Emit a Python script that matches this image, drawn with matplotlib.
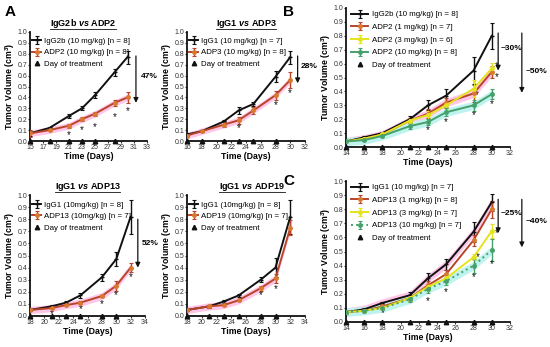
import matplotlib
matplotlib.use("Agg")
import matplotlib.pyplot as plt
from matplotlib.lines import Line2D

plt.rcParams['font.family'] = ['Liberation Sans', 'DejaVu Sans']
plt.rcParams['mathtext.fontset'] = 'custom'
plt.rcParams['mathtext.it'] = 'Liberation Sans:italic:bold'
plt.rcParams['mathtext.rm'] = 'Liberation Sans:bold'

# ---- data ----
# A1: IgG2b vs ADP2
a1_days = [15, 18, 21, 23, 25, 28, 30]
a1_ctrl = [0.07, 0.12, 0.23, 0.30, 0.42, 0.63, 0.77]
a1_ctrl_err = [0.02, 0.01, 0.02, 0.02, 0.03, 0.03, 0.06]
a1_trt = [0.07, 0.10, 0.14, 0.20, 0.25, 0.35, 0.40]
a1_trt_err = [0.03, 0.01, 0.02, 0.02, 0.02, 0.03, 0.05]
a1_star_days = [21, 23, 25, 28, 30]
a1_star_y = [0.05, 0.10, 0.13, 0.22, 0.27]
a1_dosing = [15, 18, 21, 23, 25, 28]

# A2: IgG1 vs ADP3
a2_days = [16, 18, 21, 23, 25, 28, 30]
a2_ctrl = [0.06, 0.09, 0.18, 0.28, 0.34, 0.59, 0.77]
a2_ctrl_err = [0.01, 0.01, 0.01, 0.03, 0.02, 0.05, 0.06]
a2_trt = [0.05, 0.09, 0.15, 0.19, 0.28, 0.42, 0.56]
a2_trt_err = [0.01, 0.01, 0.02, 0.03, 0.03, 0.04, 0.07]
a2_star_days = [23, 28, 30]
a2_star_y = [0.12, 0.33, 0.44]
a2_dosing = [16, 18, 21, 23, 25, 28]

# A3: IgG1 vs ADP13
a3_days = [18, 21, 23, 25, 28, 30, 32]
a3_ctrl = [0.05, 0.08, 0.11, 0.17, 0.32, 0.47, 0.82]
a3_ctrl_err = [0.01, 0.01, 0.01, 0.02, 0.03, 0.06, 0.14]
a3_trt = [0.05, 0.065, 0.09, 0.11, 0.165, 0.25, 0.40]
a3_trt_err = [0.01, 0.01, 0.01, 0.01, 0.01, 0.04, 0.04]
a3_star_days = [21, 25, 28, 30, 32]
a3_star_y = [0.02, 0.06, 0.10, 0.17, 0.32]
a3_dosing = [18, 21, 23, 25, 28, 30]

# A4: IgG1 vs ADP19
a4_days = [18, 21, 23, 25, 28, 30, 32]
a4_ctrl = [0.05, 0.08, 0.12, 0.17, 0.30, 0.40, 0.82]
a4_ctrl_err = [0.01, 0.01, 0.01, 0.01, 0.02, 0.08, 0.14]
a4_trt = [0.05, 0.08, 0.09, 0.13, 0.23, 0.31, 0.73]
a4_trt_err = [0.01, 0.01, 0.01, 0.01, 0.02, 0.04, 0.06]
a4_star_days = [28, 30]
a4_star_y = [0.17, 0.22]
a4_dosing = [18, 21, 23, 25, 28, 30]

# B: ADP2 dose response
b_days = [14, 16, 18, 21, 23, 25, 28, 30]
b_igg = [0.04, 0.07, 0.10, 0.20, 0.30, 0.37, 0.55, 0.80]
b_igg_err = [0.005, 0.01, 0.01, 0.02, 0.035, 0.05, 0.095, 0.095]
b_1mg = [0.04, 0.06, 0.09, 0.19, 0.24, 0.32, 0.385, 0.54]
b_1mg_err = [0.005, 0.01, 0.01, 0.02, 0.03, 0.03, 0.06, 0.04]
b_3mg = [0.04, 0.06, 0.09, 0.19, 0.23, 0.30, 0.42, 0.565]
b_3mg_err = [0.005, 0.01, 0.01, 0.02, 0.03, 0.03, 0.06, 0.04]
b_10mg = [0.04, 0.05, 0.08, 0.15, 0.18, 0.25, 0.30, 0.38]
b_10mg_err = [0.005, 0.01, 0.01, 0.02, 0.02, 0.03, 0.04, 0.035]
b_star_days = [23, 25, 28, 30, 28.4, 30.5, 30.6]
b_star_y = [0.12, 0.18, 0.23, 0.31, 0.37, 0.585, 0.505]
b_dosing = [14, 16, 18, 21, 23, 25, 28, 30]

# C: ADP13 dose response
c_days = [14, 16, 18, 21, 23, 25, 28, 30]
c_igg = [0.07, 0.09, 0.135, 0.19, 0.31, 0.41, 0.64, 0.85]
c_igg_err = [0.01, 0.01, 0.01, 0.02, 0.04, 0.04, 0.07, 0.06]
c_1mg = [0.07, 0.08, 0.11, 0.17, 0.26, 0.34, 0.58, 0.80]
c_1mg_err = [0.01, 0.01, 0.01, 0.02, 0.03, 0.03, 0.04, 0.06]
c_3mg = [0.07, 0.08, 0.10, 0.17, 0.25, 0.31, 0.46, 0.645]
c_3mg_err = [0.01, 0.01, 0.01, 0.02, 0.02, 0.02, 0.02, 0.05]
c_10mg = [0.07, 0.08, 0.10, 0.16, 0.235, 0.29, 0.40, 0.51]
c_10mg_err = [0.01, 0.01, 0.01, 0.02, 0.03, 0.03, 0.05, 0.08]
c_star_days = [18, 23, 25, 28, 30, 28.5, 30.5]
c_star_y = [0.06, 0.15, 0.21, 0.32, 0.41, 0.46, 0.63]
c_dosing = [14, 16, 18, 21, 23, 25, 28, 30]

BLACK = '#111111'
RED = '#b8452a'
ORANGE = '#d9782f'
YELLOW = '#e3e31e'
GREEN = '#46a06a'
PINK = '#ffc6e8'
CYAN = '#bff3f0'

W, H = 550, 347
fig = plt.figure(figsize=(5.5, 3.47), dpi=100)


def make_axes(l, r, t, b):
    return fig.add_axes([l / W, 1 - b / H, (r - l) / W, (b - t) / H])


def style_axes(ax, xmin, xmax):
    ax.set_xlim(xmin, xmax)
    ax.set_ylim(0, 1.0)
    ax.set_xticks(range(xmin, xmax + 1, 2))
    ax.set_yticks([i / 10 for i in range(11)])
    ax.set_yticklabels([f'{i / 10:.1f}' for i in range(11)])
    for s in ['top', 'right']:
        ax.spines[s].set_visible(False)
    for s in ['left', 'bottom']:
        ax.spines[s].set_linewidth(1.3)
        ax.spines[s].set_color(BLACK)
    ax.tick_params(labelsize=5, length=1.5, width=0.8, pad=0.5, colors='#333333')
    ax.set_xlabel('Time (Days)', fontsize=6.3, fontweight='bold', labelpad=1)
    ax.set_ylabel('Tumor Volume (cm$^3$)', fontsize=6.3, fontweight='bold', labelpad=0.5)


def series(ax, days, vals, err, color, label, marker='o', ls='-', band=None, mfc=None):
    if band:
        ax.fill_between(days, [v - 0.03 for v in vals], [v + 0.03 for v in vals],
                        color=band, lw=0, zorder=0)
    ax.errorbar(days, vals, yerr=err, color=color, lw=1.4, ls=ls, marker=marker,
                ms=2.5, mfc=mfc or color, mec=mfc or color, elinewidth=1, capsize=1.5,
                capthick=0.8, label=label, zorder=3)


def finish(ax, star_days, star_y, dosing, legend_anchor, handlelen, spacing):
    for d, y in zip(star_days, star_y):
        ax.text(d, y, '*', fontsize=7, ha='center', va='center', color=BLACK)
    ax.plot(dosing, [0] * len(dosing), ls='none', marker='^', ms=3.2, color=BLACK,
            clip_on=False, zorder=5, label='Day of treatment')
    handles, labels = ax.get_legend_handles_labels()
    handles = handles[1:] + handles[:1]
    labels = labels[1:] + labels[:1]
    ax.legend(handles, labels, loc='upper left', bbox_to_anchor=legend_anchor,
              frameon=False, fontsize=5.7, handlelength=handlelen, handletextpad=0.4,
              labelspacing=spacing, borderaxespad=0, borderpad=0)


def arrow(ax, x, y0, y1, text, tx, ty):
    ax.annotate('', xy=(x, y1), xytext=(x, y0), annotation_clip=False,
                arrowprops=dict(arrowstyle='-|>', color=BLACK, lw=0.9,
                                mutation_scale=7, shrinkA=0, shrinkB=0))
    ax.text(tx, ty, text, fontsize=6, fontweight='bold', ha='left', va='center',
            clip_on=False)


titles = []

# ---- A1 ----
ax = make_axes(30, 147, 32, 141)
style_axes(ax, 15, 33)
series(ax, a1_days, a1_ctrl, a1_ctrl_err, BLACK, 'IgG2b (10 mg/kg) [n = 8]', marker='_')
series(ax, a1_days, a1_trt, a1_trt_err, RED, 'ADP2 (10 mg/kg) [n = 8]', band=PINK, mfc=ORANGE)
finish(ax, a1_star_days, a1_star_y, a1_dosing, (0.02, 0.95), 1.1, 0.5)
arrow(ax, 31.3, 0.78, 0.35, '47%', 32.0, 0.59)
titles.append(ax.text(0.45, 1.02, r'IgG2b $\mathit{vs}$ ADP2', transform=ax.transAxes,
                      fontsize=6.5, fontweight='bold', ha='center', va='bottom'))

# ---- A2 ----
ax = make_axes(187, 305, 32, 141)
style_axes(ax, 16, 32)
series(ax, a2_days, a2_ctrl, a2_ctrl_err, BLACK, 'IgG1 (10 mg/kg) [n = 7]', marker='_')
series(ax, a2_days, a2_trt, a2_trt_err, RED, 'ADP3 (10 mg/kg) [n = 8]', band=PINK, mfc=ORANGE)
finish(ax, a2_star_days, a2_star_y, a2_dosing, (0.02, 0.95), 1.1, 0.5)
arrow(ax, 31.0, 0.78, 0.53, '28%', 31.4, 0.68)
titles.append(ax.text(0.5, 1.02, r'IgG1 $\mathit{vs}$ ADP3', transform=ax.transAxes,
                      fontsize=6.5, fontweight='bold', ha='center', va='bottom'))

# ---- A3 ----
ax = make_axes(30, 145, 195, 316)
style_axes(ax, 18, 34)
series(ax, a3_days, a3_ctrl, a3_ctrl_err, BLACK, 'IgG1 (10mg/kg) [n = 8]', marker='_')
series(ax, a3_days, a3_trt, a3_trt_err, RED, 'ADP13 (10mg/kg) [n = 7]', band=PINK, mfc=ORANGE)
finish(ax, a3_star_days, a3_star_y, a3_dosing, (0.02, 0.95), 1.1, 0.5)
arrow(ax, 33.0, 0.80, 0.40, '52%', 33.5, 0.60)
titles.append(ax.text(0.5, 1.02, r'IgG1 $\mathit{vs}$ ADP13', transform=ax.transAxes,
                      fontsize=6.5, fontweight='bold', ha='center', va='bottom'))

# ---- A4 ----
ax = make_axes(187, 305, 195, 316)
style_axes(ax, 18, 34)
series(ax, a4_days, a4_ctrl, a4_ctrl_err, BLACK, 'IgG1 (10mg/kg) [n = 8]', marker='_')
series(ax, a4_days, a4_trt, a4_trt_err, RED, 'ADP19 (10mg/kg) [n = 7]', band=PINK, mfc=ORANGE)
finish(ax, a4_star_days, a4_star_y, a4_dosing, (0.02, 0.95), 1.1, 0.5)
titles.append(ax.text(0.55, 1.02, r'IgG1 $\mathit{vs}$ ADP19', transform=ax.transAxes,
                      fontsize=6.5, fontweight='bold', ha='center', va='bottom'))

# ---- B ----
ax = make_axes(346, 510, 8, 147)
style_axes(ax, 14, 32)
series(ax, b_days, b_igg, b_igg_err, BLACK, 'IgG2b (10 mg/kg) [n = 8]', marker='_')
series(ax, b_days, b_1mg, b_1mg_err, RED, 'ADP2 (1 mg/kg) [n = 7]', band=PINK, mfc=ORANGE)
series(ax, b_days, b_3mg, b_3mg_err, YELLOW, 'ADP2 (3 mg/kg) [n = 6]')
series(ax, b_days, b_10mg, b_10mg_err, GREEN, 'ADP2 (10 mg/kg) [n = 8]', band=CYAN)
finish(ax, b_star_days, b_star_y, b_dosing, (0.03, 0.98), 2.2, 0.65)
arrow(ax, 30.7, 0.82, 0.55, '~30%', 31.0, 0.71)
arrow(ax, 33.3, 0.82, 0.39, '~50%', 33.7, 0.54)

# ---- C ----
ax = make_axes(346, 510, 181, 322)
style_axes(ax, 14, 32)
series(ax, c_days, c_igg, c_igg_err, BLACK, 'IgG1 (10 mg/kg) [n = 7]', marker='_', band=PINK)
series(ax, c_days, c_1mg, c_1mg_err, RED, 'ADP13 (1 mg/kg) [n = 8]', mfc=ORANGE)
series(ax, c_days, c_3mg, c_3mg_err, YELLOW, 'ADP13 (3 mg/kg) [n = 7]')
series(ax, c_days, c_10mg, c_10mg_err, GREEN, 'ADP13 (10 mg/kg) [n = 7]', ls=':', band=CYAN)
finish(ax, c_star_days, c_star_y, c_dosing, (0.03, 0.98), 2.2, 0.65)
arrow(ax, 30.7, 0.87, 0.63, '~25%', 31.0, 0.77)
arrow(ax, 33.3, 0.87, 0.53, '~40%', 33.7, 0.71)

# panel letters
fig.text(5 / W, 1 - 12 / H, 'A', fontsize=11, fontweight='bold', va='center')
fig.text(283 / W, 1 - 12 / H, 'B', fontsize=11, fontweight='bold', va='center')
fig.text(283 / W, 1 - 181 / H, 'C', fontsize=11, fontweight='bold', va='center')

# underline the A-panel titles
fig.canvas.draw()
renderer = fig.canvas.get_renderer()
inv = fig.transFigure.inverted()
for t in titles:
    bb = t.get_window_extent(renderer)
    (x0, y0), (x1, _) = inv.transform([(bb.x0, bb.y0), (bb.x1, bb.y1)])
    fig.add_artist(Line2D([x0, x1], [y0 + 0.002, y0 + 0.002], transform=fig.transFigure,
                          color=BLACK, lw=0.6))

fig.savefig('out.png', dpi=100)
